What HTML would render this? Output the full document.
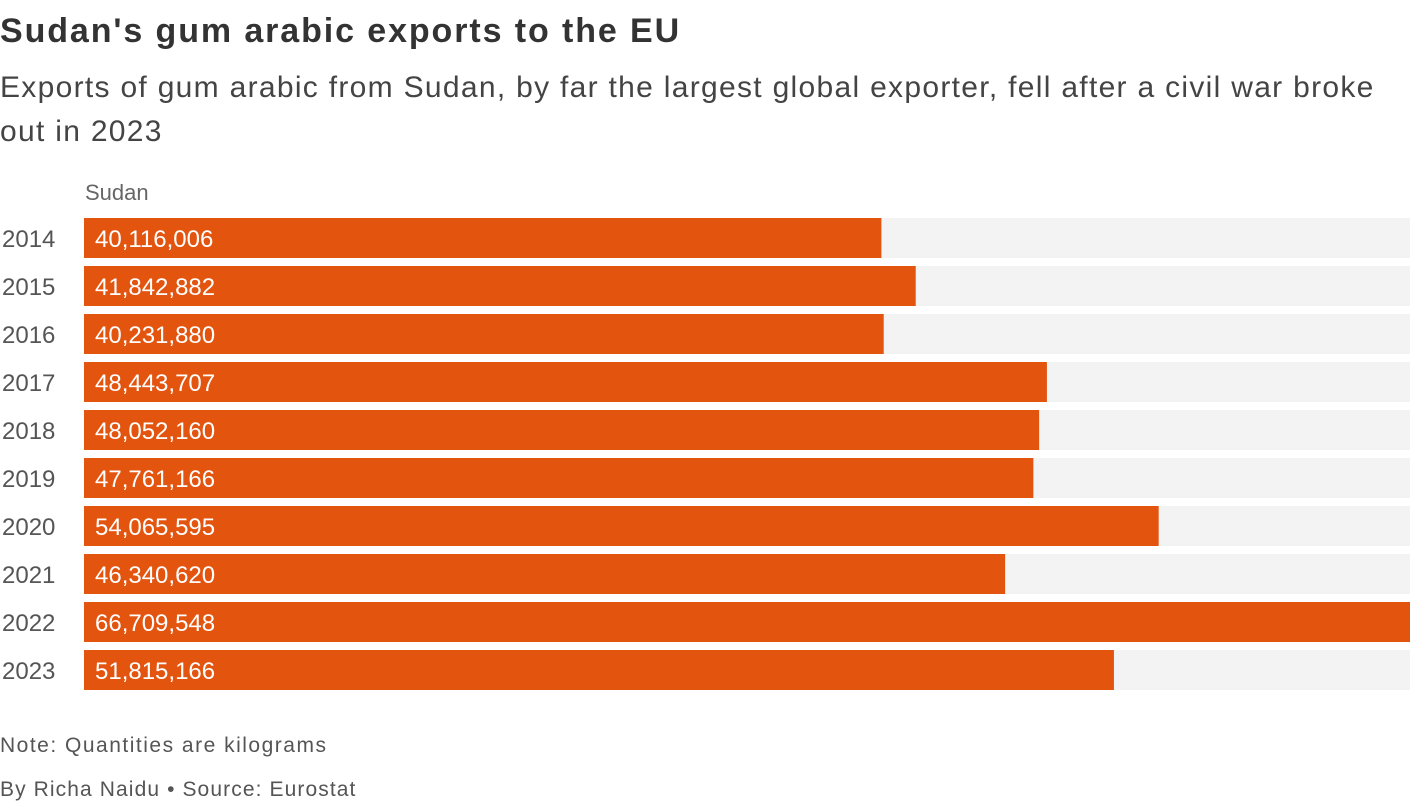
<!DOCTYPE html>
<html><head><meta charset="utf-8"><style>
body{margin:0;width:1420px;height:804px;background:#fff;font-family:"Liberation Sans",sans-serif;position:relative;overflow:hidden}
.t{position:absolute;left:0;white-space:nowrap}
</style></head><body>
<div class="t" style="top:12px;font-size:34px;font-weight:bold;color:#333;letter-spacing:1.9px">Sudan's gum arabic exports to the EU</div>
<div class="t" style="top:66px;font-size:30px;color:#444;line-height:44px;white-space:normal;width:1390px;letter-spacing:1.3px">Exports of gum arabic from Sudan, by far the largest global exporter, fell after a civil war broke out in 2023</div>
<div class="t" style="top:180px;left:85px;font-size:22px;color:#666">Sudan</div>
<svg id="c" width="1420" height="720" style="position:absolute;top:0;left:0"></svg>
<div class="t" style="top:734px;font-size:21px;color:#555;letter-spacing:1.5px">Note: Quantities are kilograms</div>
<div class="t" style="top:778px;font-size:21px;color:#555;letter-spacing:1.1px">By Richa Naidu • Source: Eurostat</div>
<script>
const years=["2014","2015","2016","2017","2018","2019","2020","2021","2022","2023"];
const values=[40116006,41842882,40231880,48443707,48052160,47761166,54065595,46340620,66709548,51815166];
const svg=document.getElementById('c');const NS='http://www.w3.org/2000/svg';
const x0=84,x1=1410,top0=218,pitch=48,bh=40;
const max=Math.max(...values);
const xs=v=>x0+v/max*(x1-x0);
years.forEach((y,i)=>{
 const ty=top0+i*pitch;
 const bg=document.createElementNS(NS,'rect');
 
 
 bg.setAttribute('x',x0);bg.setAttribute('y',ty);bg.setAttribute('width',x1-x0);bg.setAttribute('height',bh);bg.setAttribute('fill','#f3f3f3');svg.appendChild(bg);
 const r=document.createElementNS(NS,'rect');
 
 
 r.setAttribute('x',x0);r.setAttribute('y',ty);r.setAttribute('width',xs(values[i])-x0);r.setAttribute('height',bh);r.setAttribute('fill','#e3540f');svg.appendChild(r);
 const yl=document.createElementNS(NS,'text');
 
 
 yl.setAttribute('x',2);yl.setAttribute('y',ty+29);yl.setAttribute('font-size','24');yl.setAttribute('fill','#555');yl.textContent=y;svg.appendChild(yl);
 const vl=document.createElementNS(NS,'text');
 
 
 vl.setAttribute('x',95);vl.setAttribute('y',ty+29);vl.setAttribute('font-size','24');vl.setAttribute('fill','#fff');vl.textContent=values[i].toLocaleString('en-US');svg.appendChild(vl);
});
</script>
</body></html>
